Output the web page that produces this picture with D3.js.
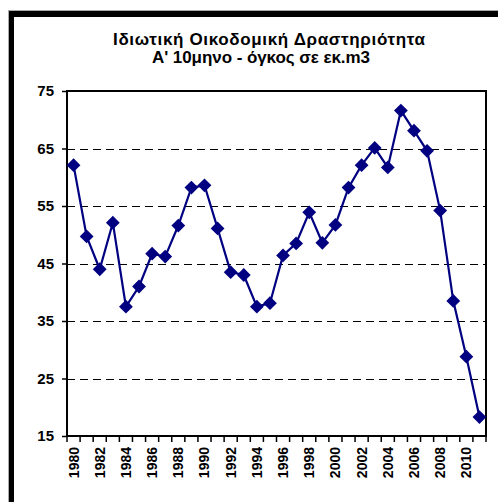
<!DOCTYPE html>
<html>
<head>
<meta charset="utf-8">
<script src="https://cdn.jsdelivr.net/npm/d3@7"></script>
<style>
  body { margin: 0; background: #fff; }
  svg { display: block; font-family: "Liberation Sans", Arial, sans-serif; }
  .title { font-size: 17px; font-weight: bold; }
  .tick-label { font-size: 15px; font-weight: bold; }
  .year-label { font-size: 14px; font-weight: bold; }
</style>
</head>
<body>
<svg width="498" height="502"></svg>
<script>
"use strict";

const titleLines = ["Ιδιωτική Οικοδομική Δραστηριότητα", "Α' 10μηνο - όγκος σε εκ.m3"];
const years = d3.range(1980, 2012);
const values = [
  62.1, 49.7, 44.0, 52.1, 37.5, 41.0, 46.7, 46.2, 51.6, 58.2,
  58.6, 51.1, 43.5, 43.0, 37.5, 38.1, 46.4, 48.5, 53.9, 48.6,
  51.7, 58.2, 62.1, 65.1, 61.7, 71.6, 68.1, 64.6, 54.2, 38.5,
  28.8, 18.3
];
const yTicks = [15, 25, 35, 45, 55, 65, 75];
const yearLabels = years.filter(y => y % 2 === 0);

const svg = d3.select("svg");
const plotL = 67, plotR = 486, plotT = 91, plotB = 436;

// frame of the (cropped) chart area
svg.append("line").attr("x1", 8).attr("x2", 498).attr("y1", 10.5).attr("y2", 10.5)
  .attr("stroke", "#aaa").attr("stroke-width", 1);
svg.append("line").attr("x1", 8.5).attr("x2", 8.5).attr("y1", 10).attr("y2", 502)
  .attr("stroke", "#aaa").attr("stroke-width", 1);
svg.append("rect").attr("x", 9).attr("y", 11).attr("width", 489).attr("height", 6).attr("fill", "#000");
svg.append("rect").attr("x", 9).attr("y", 11).attr("width", 5).attr("height", 491).attr("fill", "#000");

// titles
svg.append("text").attr("class", "title")
  .attr("x", 113).attr("y", 45)
  .attr("textLength", 312).attr("lengthAdjust", "spacing")
  .text(titleLines[0]);
svg.append("text").attr("class", "title")
  .attr("x", 152).attr("y", 63)
  .attr("textLength", 218).attr("lengthAdjust", "spacing")
  .text(titleLines[1]);

const x = d3.scaleBand().domain(years).range([plotL, plotR]).padding(0);
const y = d3.scaleLinear().domain([15, 75]).range([plotB, plotT]);

// gridlines
svg.append("g")
  .selectAll("line")
  .data(yTicks.filter(d => d > 15 && d < 75))
  .enter()
  .append("line")
  .attr("x1", plotL).attr("x2", plotR)
  .attr("y1", d => Math.round(y(d)) + 0.5)
  .attr("y2", d => Math.round(y(d)) + 0.5)
  .attr("stroke", "#000")
  .attr("stroke-width", 1)
  .attr("stroke-dasharray", "8,5");

// plot border
svg.append("rect")
  .attr("x", plotL).attr("y", plotT)
  .attr("width", plotR - plotL).attr("height", plotB - plotT)
  .attr("fill", "none").attr("stroke", "#000").attr("stroke-width", 2);

// y axis
const yAxis = d3.axisLeft(y).tickValues(yTicks).tickSize(5).tickPadding(8);
const yAxisG = svg.append("g").attr("transform", `translate(${plotL},0)`).call(yAxis);
yAxisG.select(".domain").remove();
yAxisG.selectAll("line").attr("stroke", "#000").attr("stroke-width", 1.5);
yAxisG.selectAll("text").attr("class", "tick-label").attr("fill", "#000");
yAxisG.attr("font-family", null).attr("font-size", null);

// x ticks at category boundaries
const boundaries = years.map(d => x(d)).concat([plotR]);
svg.append("g")
  .selectAll("line")
  .data(boundaries)
  .enter()
  .append("line")
  .attr("x1", d => d).attr("x2", d => d)
  .attr("y1", plotB).attr("y2", plotB + 6)
  .attr("stroke", "#000").attr("stroke-width", 1.5);

// x labels
svg.append("g")
  .selectAll("text")
  .data(yearLabels)
  .enter()
  .append("text")
  .attr("class", "year-label")
  .attr("text-anchor", "end")
  .attr("transform", d => `translate(${x(d) + x.bandwidth() / 2 + 5},${plotB + 11}) rotate(-90)`)
  .text(d => d);

// series
const pts = years.map((d, i) => [x(d) + x.bandwidth() / 2, y(values[i])]);
svg.append("path")
  .attr("d", d3.line()(pts))
  .attr("fill", "none")
  .attr("stroke", "#000080")
  .attr("stroke-width", 2.2);

svg.append("g")
  .selectAll("path")
  .data(pts)
  .enter()
  .append("path")
  .attr("d", d3.symbol(d3.symbolSquare, 95)())
  .attr("transform", d => `translate(${d[0]},${d[1]}) rotate(45)`)
  .attr("fill", "#000080");
</script>
</body>
</html>
